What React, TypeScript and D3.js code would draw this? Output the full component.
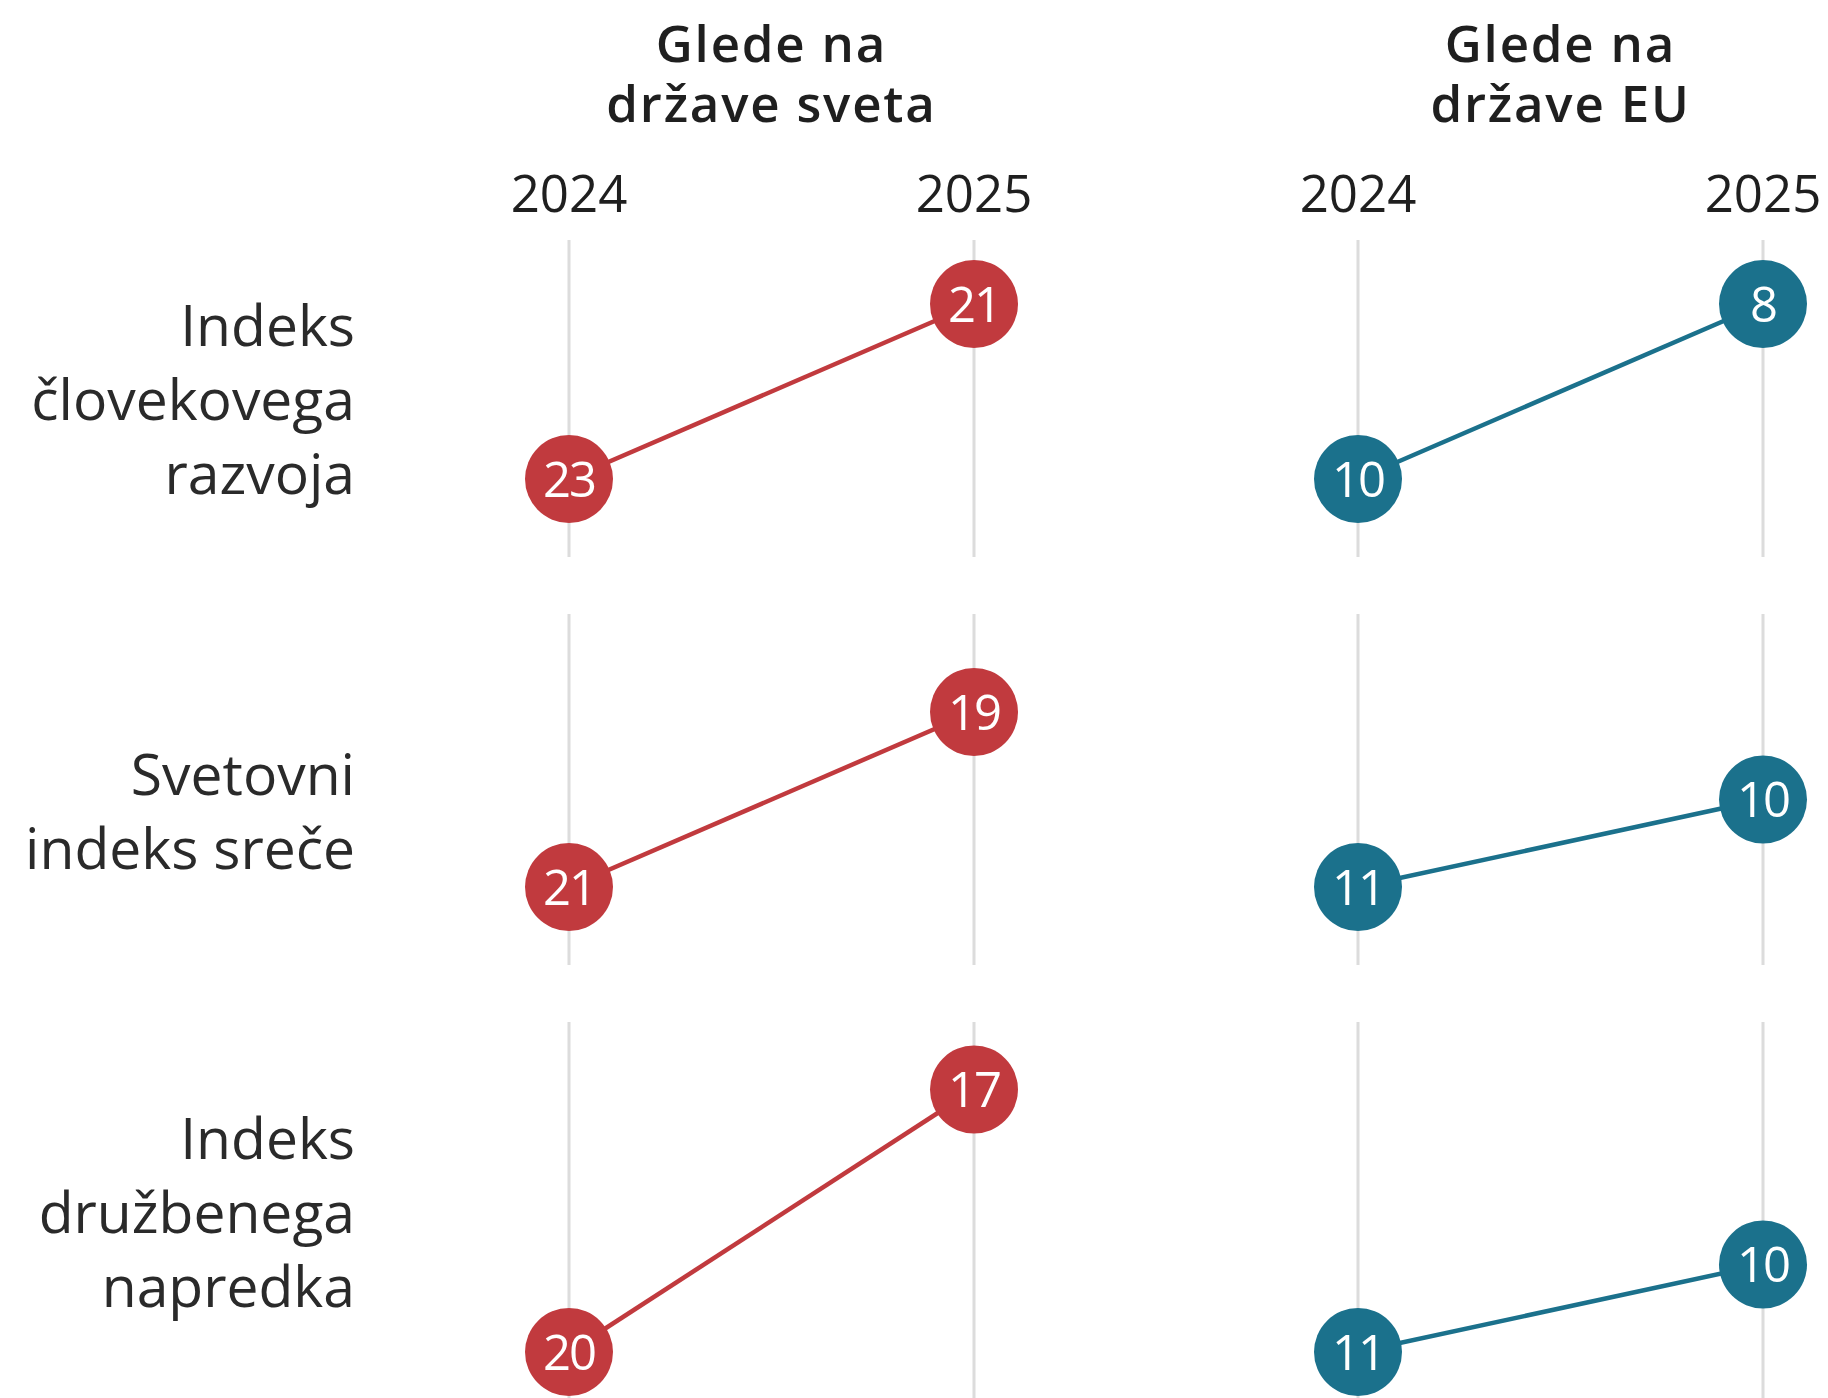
import React from "react";
import * as d3 from "d3";

const years = ["2024", "2025"];
const panelTitles = [
  ["Glede na", "države sveta"],
  ["Glede na", "države EU"],
];
const rowLabels = [
  ["Indeks", "človekovega", "razvoja"],
  ["Svetovni", "indeks sreče"],
  ["Indeks", "družbenega", "napredka"],
];
// rank among world countries
const world2024 = [23, 21, 20];
const world2025 = [21, 19, 17];
// rank among EU countries
const eu2024 = [10, 11, 11];
const eu2025 = [8, 10, 10];

const panelColors = ["#c13a3e", "#1b718c"];

const W = 1828;
const H = 1398;
const FONT = "'Open Sans', 'Noto Sans', sans-serif";

// layout of the three row bands
const rowTop = [240, 614, 1022];
const rowBottom = [557, 965, 1430];
const rowLabelMid = [400, 812, 1213];
const pxPerRank = 87.5;
const radius = 44;

export default function App() {
  const panelX = d3.scaleOrdinal<number, number>().domain([0, 1]).range([569, 1358]);
  const yearX = d3.scalePoint<string>().domain(years).range([0, 405]);

  const series = [
    [world2024, world2025],
    [eu2024, eu2025],
  ];

  return (
    <svg
      width={W}
      height={H}
      style={{ position: "absolute", left: 0, top: 0, background: "#fff" }}
      fontFamily={FONT}
    >
      {/* panel titles and year ticks */}
      {panelTitles.map((lines, p) => {
        const x0 = panelX(p);
        const cx = x0 + ((yearX("2024") ?? 0) + (yearX("2025") ?? 0)) / 2;
        return (
          <g key={"t" + p}>
            <text textAnchor="middle" fontSize={51} fontWeight={600} letterSpacing={1.8} fill="#1f1f1f">
              {lines.map((l, i) => (
                <tspan key={i} x={cx} y={62 + i * 60}>
                  {l}
                </tspan>
              ))}
            </text>
            {years.map((yr) => (
              <text
                key={yr}
                x={x0 + (yearX(yr) ?? 0)}
                y={212}
                textAnchor="middle"
                fontSize={51}
                fill="#1f1f1f"
              >
                {yr}
              </text>
            ))}
          </g>
        );
      })}

      {/* rows */}
      {rowLabels.map((lines, r) => {
        const n = lines.length;
        const lh = 74;
        return (
          <g key={"r" + r}>
            {lines.map((l, i) => (
              <text
                key={i}
                x={355}
                y={rowLabelMid[r] + (i - (n - 1) / 2) * lh + 20}
                textAnchor="end"
                fontSize={57}
                fill="#2a2a2a"
              >
                {l}
              </text>
            ))}
            {series.map(([a, b], p) => {
              const x0 = panelX(p);
              const vals = [a[r], b[r]];
              const anchorRank = d3.max(vals) ?? 0;
              const anchorY = rowBottom[r] - 78;
              const y = d3
                .scaleLinear()
                .domain([anchorRank, anchorRank - 1])
                .range([anchorY, anchorY - pxPerRank]);
              const pts: [number, number][] = vals.map((v, i) => [
                x0 + (yearX(years[i]) ?? 0),
                y(v),
              ]);
              const line = d3.line();
              return (
                <g key={p}>
                  {years.map((yr) => (
                    <line
                      key={yr}
                      x1={x0 + (yearX(yr) ?? 0)}
                      x2={x0 + (yearX(yr) ?? 0)}
                      y1={rowTop[r]}
                      y2={rowBottom[r]}
                      stroke="#dcdcdc"
                      strokeWidth={3}
                    />
                  ))}
                  <path
                    d={line(pts) ?? ""}
                    fill="none"
                    stroke={panelColors[p]}
                    strokeWidth={4.5}
                  />
                  {pts.map(([px, py], i) => (
                    <g key={i}>
                      <circle cx={px} cy={py} r={radius} fill={panelColors[p]} />
                      <text
                        x={px}
                        y={py}
                        dy="0.36em"
                        textAnchor="middle"
                        fontSize={49}
                        letterSpacing={-2}
                        fill="#fff"
                      >
                        {vals[i]}
                      </text>
                    </g>
                  ))}
                </g>
              );
            })}
          </g>
        );
      })}
    </svg>
  );
}
